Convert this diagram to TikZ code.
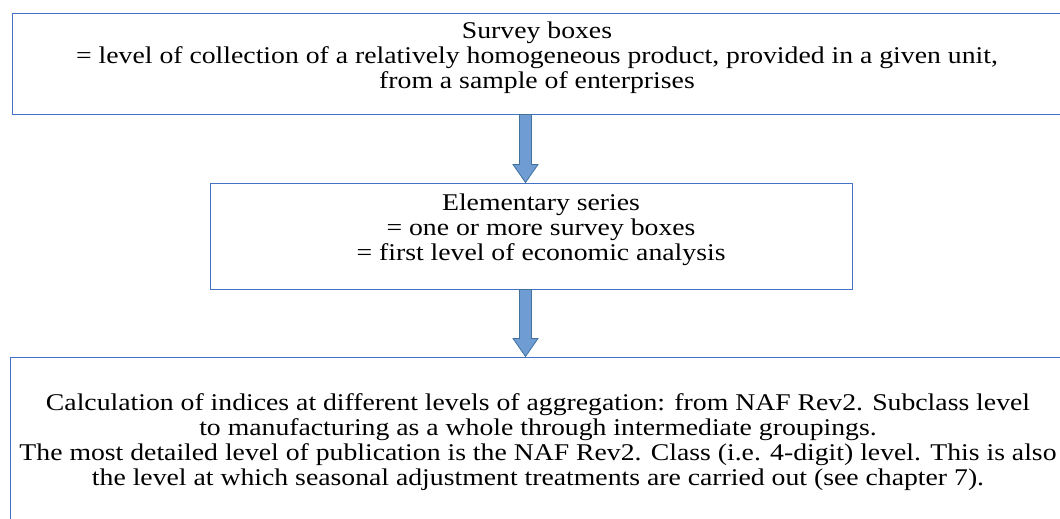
\documentclass[tikz,border=0pt]{standalone}
\usepackage{fontspec}
\setmainfont{Liberation Serif}
\usetikzlibrary{calc}

\definecolor{boxline}{RGB}{68,114,196}
\definecolor{arrowfill}{RGB}{112,156,212}
\definecolor{arrowline}{RGB}{65,113,156}

\tikzset{
  surveybox/.style={draw=boxline, line width=1pt, inner sep=0pt},
  boxtext/.style={align=center, inner sep=0pt, xscale=1.155, transform shape,
    font=\fontsize{24pt}{24.8pt}\selectfont},
  blockarrow/.style={fill=arrowfill, draw=arrowline, line width=0.8pt,
    to path={let \p1=(\tikztostart), \p2=(\tikztotarget) in
      (\x1-6pt,\y1) -- (\x1+6pt,\y1) -- (\x1+6pt,\y2+18pt) -- (\x1+12.5pt,\y2+18pt)
      -- (\x1,\y2) -- (\x1-12.5pt,\y2+18pt) -- (\x1-6pt,\y2+18pt) -- cycle}}
}

\begin{document}
\begin{tikzpicture}[x=1pt,y=-1pt]
  \useasboundingbox (0,0) rectangle (1060,519);
  \clip (0,0) rectangle (1060,519);

  % the three boxes
  \node[surveybox, minimum width=1052pt, minimum height=100pt] (s1) at (538,64) {};
  \node[surveybox, minimum width=642pt, minimum height=106pt] (s2) at (531,236) {};
  \node[surveybox, minimum width=1056pt, minimum height=180pt] (s3) at (538,447) {};

  % texts
  \node[boxtext] (t1) at (537,58) {Survey boxes\\
    = level of collection of a relatively homogeneous product, provided in a given unit,\\
    from a sample of enterprises};
  \node[boxtext] (t2) at (541,230) {Elementary series\\
    = one or more survey boxes\\
    = first level of economic analysis};
  \node[boxtext] (t3) at (538,442) {Calculation of indices at different levels of aggregation: from NAF Rev2. Subclass level\\
    to manufacturing as a whole through intermediate groupings.\\
    The most detailed level of publication is the NAF Rev2. Class (i.e. 4-digit) level. This is also\\
    the level at which seasonal adjustment treatments are carried out (see chapter 7).};

  % arrows between boxes
  \coordinate (ax) at (525.5,0);
  \draw[blockarrow] (s1.south -| ax) to (s2.north -| ax);
  \draw[blockarrow] (s2.south -| ax) to (s3.north -| ax);
\end{tikzpicture}
\end{document}
